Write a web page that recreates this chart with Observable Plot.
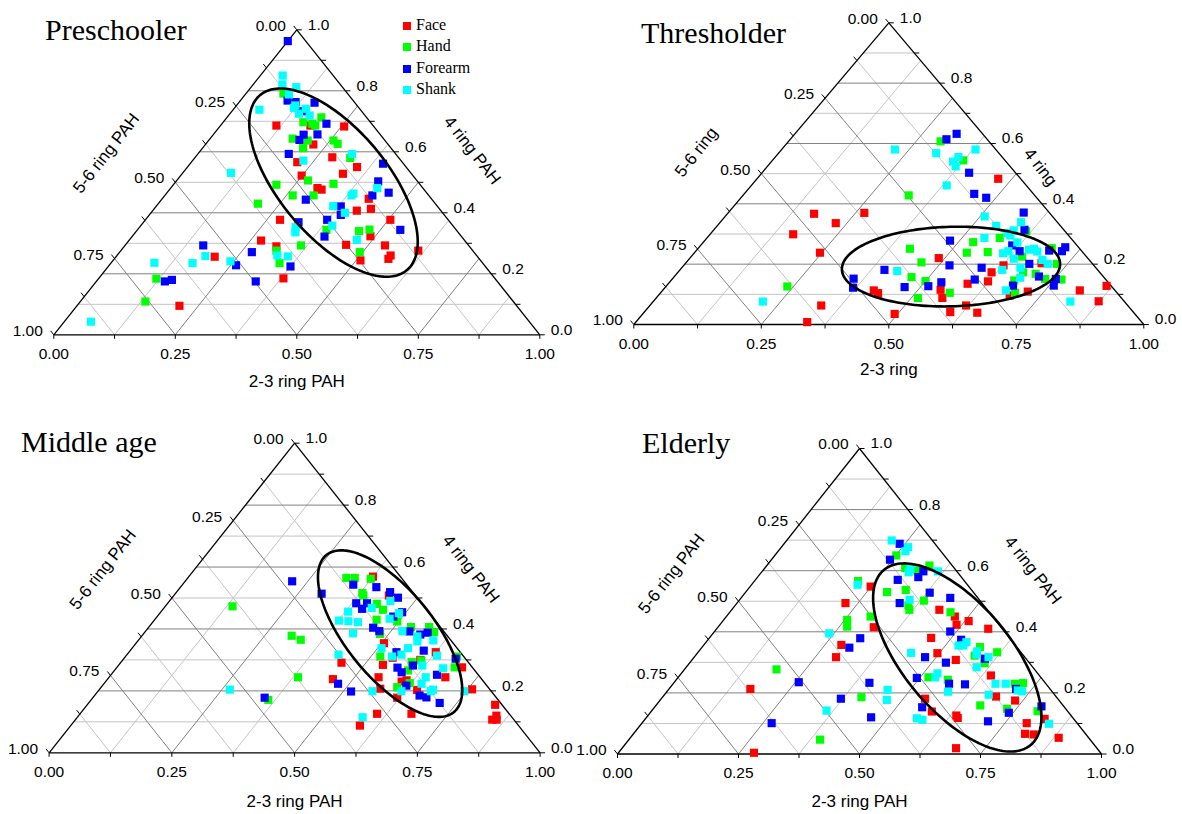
<!DOCTYPE html>
<html>
<head>
<meta charset="utf-8">
<script src="https://cdn.jsdelivr.net/npm/d3@7"></script>
<script src="https://cdn.jsdelivr.net/npm/@observablehq/plot@0.6"></script>
<style>
  body { margin: 0; background: #fff; }
  #wrap { position: relative; width: 1182px; height: 814px; overflow: hidden; background: #fff; }
  .panel { position: absolute; }
  .title { position: absolute; font-family: "Liberation Serif", "Times New Roman", serif; font-size: 30px; line-height: 30px; color: #000; white-space: nowrap; }
  .legend { position: absolute; font-family: "Liberation Serif", "Times New Roman", serif; font-size: 16px; color: #000; }
  .legend .row { position: absolute; height: 16px; line-height: 16px; white-space: nowrap; }
  .legend .sw { position: absolute; width: 8px; height: 8px; top: 4px; left: 0; }
  .legend .lab { position: absolute; left: 13px; top: -1px; }
</style>
</head>
<body>
<div id="wrap"></div>
<script>
// ---- series (legend) ----
const seriesNames = ["Face", "Hand", "Forearm", "Shank"];
const seriesColors = ["#ff0000", "#00ff00", "#0000ff", "#00ffff"];
const panelTitles = ["Preschooler", "Thresholder", "Middle age", "Elderly"];

// ---- tick labels ----
const fracTicks = [0, 0.25, 0.5, 0.75, 1];
const fracTickLabels = ["0.00", "0.25", "0.50", "0.75", "1.00"];
const ringTicks = [0, 0.2, 0.4, 0.6, 0.8, 1];
const ringTickLabels = ["0.0", "0.2", "0.4", "0.6", "0.8", "1.0"];

// ---- data: each point is [2-3 ring fraction, 4 ring fraction]; 5-6 ring = 1 - both ----
const preschoolerFace = [[0.115,0.686],[0.185,0.686],[0.256,0.683],[0.222,0.624],[0.218,0.566],[0.282,0.582],[0.349,0.550],[0.249,0.522],[0.331,0.528],[0.302,0.481],[0.313,0.476],[0.425,0.446],[0.446,0.413],[0.420,0.407],[0.277,0.377],[0.504,0.377],[0.490,0.323],[0.272,0.309],[0.454,0.295],[0.535,0.293],[0.313,0.290],[0.203,0.256],[0.509,0.244],[0.563,0.260],[0.564,0.249],[0.612,0.276],[0.380,0.185],[0.211,0.095]];
const preschoolerHand = [[0.077,0.791],[0.194,0.713],[0.165,0.697],[0.186,0.692],[0.195,0.686],[0.170,0.643],[0.204,0.637],[0.257,0.637],[0.271,0.626],[0.207,0.612],[0.320,0.580],[0.270,0.506],[0.328,0.495],[0.212,0.492],[0.263,0.457],[0.306,0.457],[0.205,0.430],[0.389,0.344],[0.458,0.340],[0.477,0.345],[0.362,0.293],[0.320,0.276],[0.494,0.271],[0.347,0.235],[0.119,0.184],[0.134,0.109]];
const preschoolerForearm = [[0.000,0.963],[0.097,0.768],[0.116,0.763],[0.156,0.761],[0.144,0.733],[0.215,0.692],[0.214,0.657],[0.186,0.656],[0.186,0.639],[0.187,0.593],[0.397,0.561],[0.416,0.503],[0.456,0.466],[0.427,0.457],[0.297,0.443],[0.380,0.421],[0.394,0.393],[0.319,0.369],[0.374,0.377],[0.541,0.344],[0.396,0.322],[0.161,0.293],[0.272,0.271],[0.261,0.228],[0.375,0.224],[0.141,0.175],[0.153,0.180],[0.328,0.175]];
const preschoolerShank = [[0.046,0.850],[0.060,0.821],[0.093,0.812],[0.090,0.788],[0.122,0.744],[0.121,0.752],[0.148,0.741],[0.142,0.725],[0.167,0.719],[0.054,0.738],[0.228,0.571],[0.317,0.593],[0.425,0.481],[0.384,0.457],[0.385,0.463],[0.364,0.422],[0.399,0.400],[0.321,0.353],[0.329,0.336],[0.394,0.358],[0.468,0.311],[0.099,0.531],[0.183,0.258],[0.330,0.260],[0.353,0.257],[0.089,0.236],[0.168,0.235],[0.243,0.241],[0.055,0.043]];

const thresholderFace = [[0.473,0.483],[0.170,0.367],[0.267,0.370],[0.228,0.336],[0.163,0.299],[0.246,0.238],[0.414,0.113],[0.427,0.104],[0.336,0.063],[0.336,0.008],[0.488,0.220],[0.698,0.203],[0.615,0.173],[0.627,0.196],[0.623,0.143],[0.544,0.115],[0.587,0.135],[0.689,0.096],[0.718,0.109],[0.561,0.088],[0.620,0.063],[0.600,0.041],[0.654,0.039],[0.494,0.035],[0.818,0.113],[0.863,0.128],[0.873,0.077]];
const thresholderHand = [[0.298,0.607],[0.374,0.544],[0.325,0.428],[0.238,0.126],[0.615,0.309],[0.529,0.273],[0.574,0.287],[0.416,0.251],[0.534,0.238],[0.574,0.240],[0.693,0.253],[0.461,0.206],[0.649,0.225],[0.729,0.201],[0.677,0.173],[0.704,0.168],[0.731,0.151],[0.764,0.149],[0.466,0.157],[0.673,0.146],[0.500,0.144],[0.567,0.105],[0.695,0.105],[0.513,0.088]];
const thresholderForearm = [[0.317,0.632],[0.306,0.614],[0.406,0.503],[0.451,0.433],[0.481,0.420],[0.579,0.371],[0.609,0.314],[0.481,0.278],[0.611,0.262],[0.635,0.243],[0.692,0.245],[0.718,0.243],[0.718,0.256],[0.675,0.201],[0.401,0.181],[0.521,0.196],[0.588,0.188],[0.715,0.159],[0.752,0.151],[0.759,0.129],[0.594,0.149],[0.469,0.124],[0.514,0.127],[0.533,0.140],[0.679,0.129],[0.355,0.152],[0.369,0.122]];
const thresholderShank = [[0.222,0.580],[0.309,0.568],[0.380,0.580],[0.356,0.540],[0.359,0.555],[0.369,0.524],[0.383,0.461],[0.509,0.358],[0.547,0.327],[0.590,0.339],[0.581,0.303],[0.589,0.312],[0.544,0.287],[0.591,0.295],[0.616,0.272],[0.606,0.236],[0.613,0.243],[0.651,0.248],[0.659,0.251],[0.670,0.242],[0.636,0.218],[0.694,0.214],[0.711,0.201],[0.428,0.177],[0.632,0.181],[0.664,0.188],[0.680,0.155],[0.673,0.113],[0.215,0.076],[0.818,0.076]];

const middleFace = [[0.450,0.291],[0.459,0.238],[0.589,0.088],[0.605,0.126],[0.375,0.569],[0.438,0.508],[0.505,0.354],[0.625,0.325],[0.546,0.307],[0.538,0.284],[0.606,0.300],[0.703,0.276],[0.549,0.244],[0.685,0.244],[0.603,0.230],[0.611,0.234],[0.571,0.207],[0.648,0.203],[0.620,0.178],[0.759,0.205],[0.675,0.126],[0.831,0.155],[0.851,0.120],[0.849,0.107],[0.858,0.107]];
const middleHand = [[0.137,0.473],[0.305,0.378],[0.330,0.365],[0.385,0.244],[0.361,0.171],[0.323,0.565],[0.340,0.565],[0.374,0.562],[0.380,0.516],[0.386,0.508],[0.427,0.481],[0.449,0.462],[0.497,0.424],[0.452,0.430],[0.482,0.384],[0.534,0.406],[0.571,0.406],[0.589,0.390],[0.519,0.311],[0.592,0.293],[0.609,0.298],[0.598,0.266],[0.675,0.311],[0.688,0.276],[0.603,0.212],[0.622,0.225]];
const middleForearm = [[0.218,0.554],[0.298,0.514],[0.350,0.178],[0.477,0.223],[0.516,0.198],[0.348,0.543],[0.399,0.535],[0.435,0.519],[0.460,0.501],[0.384,0.483],[0.406,0.483],[0.405,0.465],[0.492,0.454],[0.481,0.440],[0.458,0.404],[0.476,0.393],[0.538,0.392],[0.577,0.388],[0.565,0.382],[0.598,0.330],[0.545,0.325],[0.600,0.282],[0.572,0.275],[0.588,0.260],[0.676,0.304],[0.664,0.252],[0.619,0.217],[0.662,0.185],[0.679,0.179],[0.715,0.161]];
const middleShank = [[0.266,0.204],[0.431,0.317],[0.581,0.115],[0.450,0.490],[0.423,0.468],[0.381,0.456],[0.487,0.451],[0.477,0.433],[0.377,0.427],[0.397,0.425],[0.418,0.422],[0.426,0.386],[0.523,0.393],[0.562,0.376],[0.570,0.360],[0.601,0.363],[0.508,0.338],[0.562,0.338],[0.633,0.314],[0.543,0.311],[0.559,0.317],[0.619,0.282],[0.666,0.273],[0.645,0.244],[0.647,0.223],[0.559,0.199],[0.618,0.199],[0.680,0.204],[0.678,0.199],[0.746,0.199]];

const elderlyFace = [[0.249,0.548],[0.224,0.494],[0.429,0.472],[0.472,0.450],[0.489,0.423],[0.508,0.435],[0.561,0.410],[0.322,0.415],[0.458,0.380],[0.284,0.357],[0.293,0.317],[0.496,0.330],[0.545,0.308],[0.643,0.257],[0.168,0.213],[0.688,0.188],[0.545,0.181],[0.734,0.175],[0.580,0.139],[0.637,0.126],[0.644,0.118],[0.825,0.115],[0.795,0.101],[0.809,0.066],[0.828,0.064],[0.885,0.053],[0.690,0.019],[0.280,0.004]];
const elderlyHand = [[0.251,0.650],[0.290,0.609],[0.319,0.601],[0.336,0.617],[0.214,0.566],[0.292,0.530],[0.327,0.537],[0.382,0.502],[0.358,0.486],[0.367,0.472],[0.456,0.464],[0.255,0.439],[0.266,0.417],[0.298,0.450],[0.574,0.350],[0.577,0.322],[0.618,0.333],[0.610,0.297],[0.190,0.277],[0.517,0.251],[0.561,0.243],[0.706,0.230],[0.722,0.232],[0.411,0.186],[0.670,0.159],[0.731,0.148],[0.798,0.140],[0.395,0.047]];
const elderlyForearm = [[0.239,0.688],[0.245,0.636],[0.333,0.598],[0.332,0.579],[0.294,0.570],[0.381,0.528],[0.432,0.511],[0.336,0.494],[0.312,0.379],[0.487,0.401],[0.523,0.374],[0.305,0.348],[0.603,0.312],[0.477,0.317],[0.529,0.299],[0.494,0.249],[0.570,0.230],[0.604,0.228],[0.717,0.213],[0.257,0.235],[0.404,0.233],[0.371,0.181],[0.553,0.153],[0.741,0.135],[0.798,0.156],[0.464,0.120],[0.712,0.107],[0.268,0.101]];
const elderlyShank = [[0.217,0.699],[0.262,0.677],[0.263,0.664],[0.302,0.606],[0.304,0.595],[0.363,0.598],[0.219,0.554],[0.351,0.505],[0.240,0.395],[0.527,0.355],[0.537,0.355],[0.538,0.366],[0.575,0.336],[0.579,0.326],[0.608,0.317],[0.441,0.331],[0.600,0.284],[0.529,0.264],[0.531,0.251],[0.581,0.204],[0.666,0.230],[0.687,0.230],[0.723,0.208],[0.733,0.205],[0.453,0.210],[0.468,0.177],[0.670,0.194],[0.361,0.142],[0.560,0.117],[0.574,0.112],[0.842,0.099]];

// ---- cluster ellipses: [2-3 ring centre, 4 ring centre, semi-major, semi-minor (fractions of base), angle deg] ----
const preschoolerEllipse = [0.326, 0.499, 0.235, 0.111, 50];
const thresholderEllipse = [0.526, 0.192, 0.214, 0.078, -1.5];
const middleEllipse = [0.502, 0.385, 0.206, 0.089, 51];
const elderlyEllipse = [0.544, 0.316, 0.236, 0.111, 50];

// ---- axis titles ----
const axisTitlesPAH = ["2-3 ring PAH", "5-6 ring PAH", "4 ring PAH"];
const axisTitlesShort = ["2-3 ring", "5-6 ring", "4 ring"];

// ---- layout (pixels) ----
const panels = [
  { title: panelTitles[0], titlePos: [45, 15], data: [preschoolerFace, preschoolerHand, preschoolerForearm, preschoolerShank], ellipse: preschoolerEllipse, axisTitles: axisTitlesPAH,
    box: [0, 0, 591, 410], tri: [53.3, 539.3, 334.3, 29.3], bottomDy: 47, leftOff: [-69, -29], rightOff: [54, -32] },
  { title: panelTitles[1], titlePos: [641, 18], data: [thresholderFace, thresholderHand, thresholderForearm, thresholderShank], ellipse: thresholderEllipse, axisTitles: axisTitlesShort,
    box: [591, 0, 591, 410], tri: [633.3, 1143.3, 324, 22.3], bottomDy: 45, leftOff: [-65, -21.5], rightOff: [24, -6.5] },
  { title: panelTitles[2], titlePos: [21, 426.5], data: [middleFace, middleHand, middleForearm, middleShank], ellipse: middleEllipse, axisTitles: axisTitlesPAH,
    box: [0, 410, 591, 404], tri: [48.6, 539.6, 752.3, 442.7], bottomDy: 49, leftOff: [-69, -28.5], rightOff: [53.5, -29] },
  { title: panelTitles[3], titlePos: [642, 428], data: [elderlyFace, elderlyHand, elderlyForearm, elderlyShank], ellipse: elderlyEllipse, axisTitles: axisTitlesPAH,
    box: [591, 410, 591, 404], tri: [617, 1101, 753.5, 448], bottomDy: 48, leftOff: [-67, -27.5], rightOff: [52.5, -31] }
];

const wrap = document.getElementById("wrap");

function makePanel(p) {
  const [x0, x1, yb, yt] = p.tri;
  const [ox, oy, bw, bh] = p.box;
  const W = x1 - x0, H = yb - yt;
  const toXY = (d) => ({ x: d[0] + d[1] / 2, y: d[1] });

  // grid lines
  const grid = [];
  for (let i = 1; i < 10; i++) { const B = i / 10; grid.push({ x1: B / 2, y1: B, x2: 1 - B / 2, y2: B, major: i % 2 === 0 }); }
  for (let i = 1; i < 8; i++) { const A = i / 8; grid.push({ x1: A, y1: 0, x2: A + (1 - A) / 2, y2: 1 - A, major: i % 2 === 0 }); }
  for (let i = 1; i < 8; i++) { const C = i / 8; grid.push({ x1: 1 - C, y1: 0, x2: (1 - C) / 2, y2: 1 - C, major: i % 2 === 0 }); }

  // triangle outline
  const frame = [{ x1: 0, y1: 0, x2: 1, y2: 0 }, { x1: 1, y1: 0, x2: 0.5, y2: 1 }, { x1: 0.5, y1: 1, x2: 0, y2: 0 }];

  // ticks
  const tl = 5;
  const ticks = [];
  for (let i = 0; i <= 8; i++) { const A = i / 8; ticks.push({ x1: A, y1: 0, x2: A, y2: -4 / H }); }
  const L = Math.hypot(0.5 * W, H);
  for (let i = 0; i <= 8; i++) { const C = i / 8, x = (1 - C) / 2, y = 1 - C; ticks.push({ x1: x, y1: y, x2: x - 0.5 * tl / L, y2: y + tl / L }); }
  for (let i = 0; i <= 10; i++) { const B = i / 10, x = 1 - B / 2; ticks.push({ x1: x, y1: B, x2: x + tl / W, y2: B }); }

  const bottomLabels = fracTicks.map((A, i) => ({ x: A, y: 0, t: fracTickLabels[i] }));
  const leftLabels = fracTicks.map((C, i) => ({ x: (1 - C) / 2, y: 1 - C, t: fracTickLabels[i] }));
  const rightLabels = ringTicks.map((B, i) => ({ x: 1 - B / 2, y: B, t: ringTickLabels[i] }));

  // ellipse outline
  const [eA, eB, ea, eb, ang] = p.ellipse;
  const cx = eA + eB / 2, cy = eB, th = ang * Math.PI / 180;
  const ell = d3.range(0, 181).map(k => {
    const t = k / 180 * 2 * Math.PI;
    const u = ea * Math.cos(t), v = eb * Math.sin(t);
    const dxp = (u * Math.cos(th) - v * Math.sin(th)) * W;
    const dyp = (u * Math.sin(th) + v * Math.cos(th)) * W;
    return { x: cx + dxp / W, y: cy - dyp / H };
  });

  const fs = 15.5, tfs = 17;
  const marks = [
    Plot.link(grid.filter(d => !d.major), { x1: "x1", y1: "y1", x2: "x2", y2: "y2", stroke: "#c4c4c4", strokeWidth: 1 }),
    Plot.link(grid.filter(d => d.major), { x1: "x1", y1: "y1", x2: "x2", y2: "y2", stroke: "#808080", strokeWidth: 1 }),
    Plot.link(frame, { x1: "x1", y1: "y1", x2: "x2", y2: "y2", stroke: "#000", strokeWidth: 1.3 }),
    Plot.link(ticks, { x1: "x1", y1: "y1", x2: "x2", y2: "y2", stroke: "#000", strokeWidth: 1 }),
    Plot.text(bottomLabels, { x: "x", y: "y", text: "t", dy: 19.5, fontSize: fs, fill: "#000", textAnchor: "middle" }),
    Plot.text(leftLabels, { x: "x", y: "y", text: "t", dx: -11, dy: -4, fontSize: fs, fill: "#000", textAnchor: "end" }),
    Plot.text(rightLabels, { x: "x", y: "y", text: "t", dx: 11, dy: -5, fontSize: fs, fill: "#000", textAnchor: "start" }),
    Plot.text([{ x: 0.5, y: 0, t: p.axisTitles[0] }], { x: "x", y: "y", text: "t", dy: p.bottomDy, fontSize: tfs, fill: "#000" }),
    Plot.text([{ x: 0.25, y: 0.5, t: p.axisTitles[1] }], { x: "x", y: "y", text: "t", dx: p.leftOff[0], dy: p.leftOff[1], rotate: -52, fontSize: tfs, fill: "#000" }),
    Plot.text([{ x: 0.75, y: 0.5, t: p.axisTitles[2] }], { x: "x", y: "y", text: "t", dx: p.rightOff[0], dy: p.rightOff[1], rotate: 52, fontSize: tfs, fill: "#000" })
  ];
  p.data.forEach((arr, s) => {
    marks.push(Plot.dot(arr.map(toXY), { x: "x", y: "y", symbol: "square", r: 4.6, fill: seriesColors[s], stroke: "none" }));
  });
  marks.push(Plot.line(ell, { x: "x", y: "y", stroke: "#000", strokeWidth: 2.6, curve: "linear" }));

  const svg = Plot.plot({
    width: bw, height: bh,
    margin: 0,
    x: { domain: [0, 1], range: [x0 - ox, x1 - ox], axis: null },
    y: { domain: [0, 1], range: [yb - oy, yt - oy], axis: null },
    style: { background: "none", overflow: "visible", fontFamily: "'Liberation Sans', Arial, sans-serif" },
    marks
  });
  const div = document.createElement("div");
  div.className = "panel";
  div.style.left = ox + "px"; div.style.top = oy + "px";
  div.style.width = bw + "px"; div.style.height = bh + "px";
  div.appendChild(svg);
  wrap.appendChild(div);

  const t = document.createElement("div");
  t.className = "title";
  t.style.left = p.titlePos[0] + "px"; t.style.top = p.titlePos[1] + "px";
  t.textContent = p.title;
  wrap.appendChild(t);
}

panels.forEach(makePanel);

// legend (first panel)
const legend = document.createElement("div");
legend.className = "legend";
legend.style.left = "403px"; legend.style.top = "18px";
seriesNames.forEach((n, i) => {
  const row = document.createElement("div");
  row.className = "row";
  row.style.top = (i * 21.3) + "px";
  row.innerHTML = `<span class="sw" style="background:${seriesColors[i]}"></span><span class="lab">${n}</span>`;
  legend.appendChild(row);
});
wrap.appendChild(legend);
</script>
</body>
</html>
